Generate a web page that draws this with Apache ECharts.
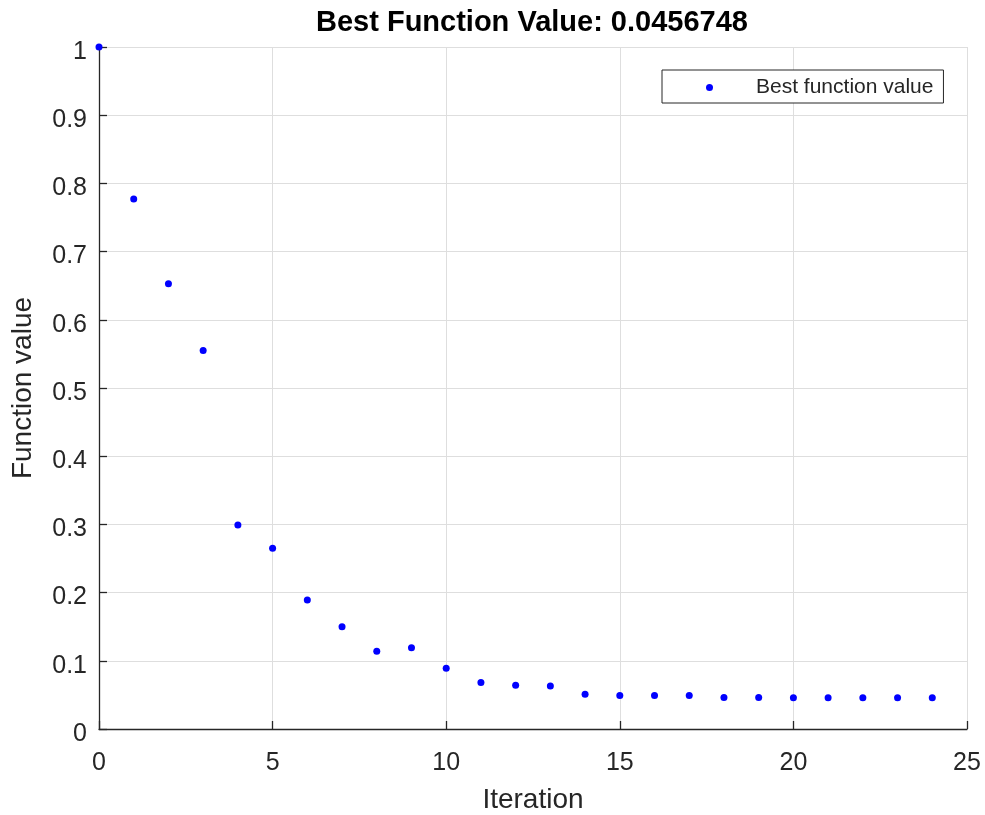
<!DOCTYPE html>
<html>
<head>
<meta charset="utf-8">
<script src="https://cdn.jsdelivr.net/npm/echarts@6/dist/echarts.min.js"></script>
<style>
html,body{margin:0;padding:0;background:#fff;}
#chart{width:985px;height:815px;}
</style>
</head>
<body>
<div id="chart"></div>
<script>
const iterations = [0,1,2,3,4,5,6,7,8,9,10,11,12,13,14,15,16,17,18,19,20,21,22,23,24];
const bestValues = [1.0,0.777,0.653,0.555,0.299,0.265,0.189,0.150,0.114,0.119,0.089,0.068,0.064,0.063,0.051,0.049,0.049,0.049,0.0462,0.0462,0.0457,0.0457,0.0457,0.0457,0.0456748];
const titleText = 'Best Function Value: 0.0456748';
const seriesName = 'Best function value';
const xName = 'Iteration';
const yName = 'Function value';

const chart = echarts.init(document.getElementById('chart'), null, {renderer:'canvas'});
const fontFam = '"Liberation Sans", Arial, Helvetica, sans-serif';
const axisCol = '#262626';
const gridCol = '#dedede';

chart.setOption({
  animation:false,
  backgroundColor:'#ffffff',
  title:{
    text:titleText,
    left:316, top:8, padding:0,
    textStyle:{fontFamily:fontFam,fontSize:29,fontWeight:'bold',color:'#000'}
  },
  legend:{
    left:662, top:70,
    padding:[7,10,5,44],
    backgroundColor:'#fff',
    borderColor:axisCol, borderWidth:1,
    itemWidth:7, itemHeight:7,
    data:[{name:seriesName, icon:'circle'}],
    textStyle:{fontFamily:fontFam,fontSize:21,color:axisCol,padding:[0,0,0,38]}
  },
  grid:{left:99,right:18,top:47,bottom:86,containLabel:false,outerBoundsMode:'none'},
  xAxis:{
    type:'value', min:0, max:25, interval:5,
    name:xName, nameLocation:'middle', nameGap:57,
    nameTextStyle:{fontFamily:fontFam,fontSize:28,color:axisCol},
    axisLine:{show:true,onZero:false,lineStyle:{color:axisCol,width:1.3}},
    axisTick:{show:true,inside:true,length:8,lineStyle:{color:axisCol,width:1.3}},
    axisLabel:{fontFamily:fontFam,fontSize:25,color:axisCol,margin:22},
    splitLine:{show:true,lineStyle:{color:gridCol,width:1}}
  },
  yAxis:{
    type:'value', min:0, max:1, interval:0.1,
    name:yName, nameLocation:'middle', nameGap:62,
    nameTextStyle:{fontFamily:fontFam,fontSize:28,color:axisCol},
    axisLine:{show:true,onZero:false,lineStyle:{color:axisCol,width:1.3}},
    axisTick:{show:true,inside:true,length:8,lineStyle:{color:axisCol,width:1.3}},
    axisLabel:{fontFamily:fontFam,fontSize:25,color:axisCol,margin:12,verticalAlign:'top',lineHeight:10},
    splitLine:{show:true,lineStyle:{color:gridCol,width:1}}
  },
  series:[{
    name:seriesName,
    type:'scatter',
    symbol:'circle',
    symbolSize:7,
    clip:false,
    itemStyle:{color:'#0000ff',opacity:1},
    data:iterations.map((x,i)=>[x,bestValues[i]])
  }]
});
</script>
</body>
</html>
